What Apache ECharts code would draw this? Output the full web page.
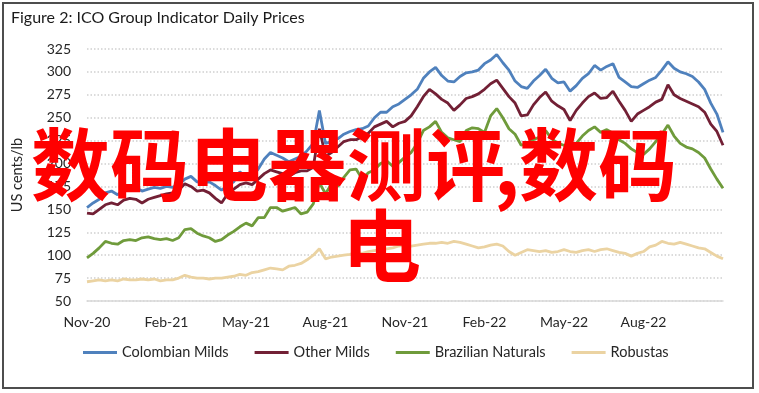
<!DOCTYPE html>
<html>
<head>
<meta charset="utf-8">
<script src="https://cdn.jsdelivr.net/npm/echarts@6/dist/echarts.min.js"></script>
<style>
html,body{margin:0;padding:0;background:#fff;}
#chart{width:759px;height:393px;}
</style>
</head>
<body>
<div id="chart"></div>
<script>
// Weekly observations starting 2020-11-02 (US cents/lb)
const startDate = '2020-11-02';
const colombianMilds = [152,157,161,168,170,166,171,173,174,170,172,174,173,175,174,177,183,186,180,179,180,176,171,176,180,191,184,186,194,205,212,209,206,202,205,208,214,222,258,222,224,227,232,235,237,238,241,250,256,256,262,265,270,275,281,293,300,305,296,290,289,295,299,300,302,309,313,319,310,302,290,284,282,290,296,303,293,288,289,279,285,293,298,307,302,306,309,294,289,284,283,287,291,294,302,311,304,300,298,295,289,281,266,254,234];
const otherMilds = [146,145,150,155,157,155,160,162,161,157,161,163,165,167,168,171,178,175,170,171,168,162,157,167,172,177,179,177,183,189,193,191,189,186,190,192,192,196,238,208,212,218,224,226,226,229,233,240,243,246,240,244,246,252,262,273,281,276,270,266,258,264,271,273,276,281,287,291,282,273,266,252,253,264,272,278,268,263,259,247,258,266,273,277,271,272,279,268,258,246,254,258,262,267,270,286,275,271,268,265,262,256,243,235,220];
const brazilianNaturals = [97,102,108,115,113,112,116,117,116,119,120,118,117,118,116,119,128,129,124,121,119,115,117,122,126,131,135,132,141,141,152,152,148,150,152,145,147,156,179,167,178,175,185,193,194,183,190,193,200,203,197,201,207,212,222,236,240,246,234,228,226,224,236,239,238,234,252,260,250,238,232,220,222,226,229,236,227,222,220,214,222,230,236,240,234,237,233,226,222,216,212,210,216,224,232,242,230,222,218,216,212,206,194,183,173];
const robustas = [71,72,73,72,73,72,74,73,73,74,73,74,72,73,73,75,78,76,75,75,74,75,75,76,77,79,78,81,82,84,86,85,84,88,89,91,95,100,107,96,98,99,100,101,103,102,104,105,106,107,108,110,111,110,111,112,113,113,114,113,115,114,112,110,108,109,111,112,110,104,100,103,106,105,104,105,103,104,106,104,103,105,106,104,106,107,105,103,102,99,102,104,109,111,115,113,112,114,112,110,108,107,103,99,96];
const seriesNames = ['Colombian Milds','Other Milds','Brazilian Naturals','Robustas'];
const tickLabels = ['Nov-20','Feb-21','May-21','Aug-21','Nov-21','Feb-22','May-22','Aug-22'];
const tickDates = ['2020-11-01','2021-02-01','2021-05-01','2021-08-01','2021-11-01','2022-02-01','2022-05-01','2022-08-01'];
const yTicks = {min:50, max:325, step:25};

const DAY = 86400000;
const t0 = Date.parse(startDate + 'T00:00:00Z');
const categories = colombianMilds.map((_, i) => new Date(t0 + i*7*DAY).toISOString().slice(0,10));
const labelMap = {};
tickDates.forEach((d, k) => {
  const idx = Math.round((Date.parse(d + 'T00:00:00Z') - t0) / (7*DAY));
  labelMap[Math.max(0, idx)] = tickLabels[k];
});

const FONT = 'Lato';
const colors = ['#4f81bd','#722035','#6f9b3b','#ebd3a2'];
const RED_FONT = 'bold 79px "Noto Sans CJK SC"';

const chart = echarts.init(document.getElementById('chart'), null, {renderer:'canvas'});
chart.setOption({
  animation:false,
  backgroundColor:'#ffffff',
  color: colors,
  title:{
    text:'Figure 2: ICO Group Indicator Daily Prices',
    left:6, top:5,
    textStyle:{fontFamily:FONT, fontSize:16, fontWeight:'normal', color:'#1a1a1a'}
  },
  legend:{
    data: seriesNames,
    left:83, top:345, padding:0,
    itemWidth:34, itemHeight:3, itemGap:26,
    icon:'rect',
    textStyle:{fontFamily:FONT, fontSize:14.5, color:'#262626'}
  },
  grid:{left:87, right:36, top:49, bottom:92, containLabel:false},
  xAxis:{
    type:'category',
    data: categories,
    boundaryGap:false,
    axisLine:{show:true, lineStyle:{color:'#d9d9d9', width:1.5}},
    axisTick:{show:false},
    splitLine:{show:false},
    axisLabel:{
      interval: function(index){ return labelMap[index] !== undefined; },
      formatter: function(v, index){ return labelMap[index] || ''; },
      fontFamily:FONT, fontSize:14, color:'#262626', margin:14
    }
  },
  yAxis:{
    type:'value',
    min:yTicks.min, max:yTicks.max, interval:yTicks.step,
    name:'US cents/lb',
    nameLocation:'middle',
    nameGap:62,
    nameTextStyle:{fontFamily:FONT, fontSize:14.5, color:'#262626'},
    axisLine:{show:false},
    axisTick:{show:false},
    axisLabel:{fontFamily:FONT, fontSize:14, color:'#262626', margin:16},
    splitLine:{show:true, lineStyle:{color:'#cfcfcf', width:1.5, type:[1.5,2]}}
  },
  series: [colombianMilds, otherMilds, brazilianNaturals, robustas].map((d, i) => ({
    name: seriesNames[i],
    type:'line',
    data:d,
    symbol:'none',
    lineStyle:{width:2.8, color:colors[i]},
    z: 10 - i
  })),
  graphic:[
    {type:'rect', shape:{x:3, y:3, width:750, height:385}, style:{fill:'none', stroke:'#4d4d4d', lineWidth:2}, z:100},
    {type:'text', left:31, top:125, z:200,
      style:{text:'数码电器测评', font:RED_FONT, fill:'#ff0000'}},
    {type:'text', left:494, top:125, z:200,
      style:{text:',', font:RED_FONT, fill:'#ff0000'}},
    {type:'text', left:519, top:125, z:200,
      style:{text:'数码', font:RED_FONT, fill:'#ff0000'}},
    {type:'text', left:342, top:206, z:200,
      style:{text:'电', font:RED_FONT, fill:'#ff0000'}}
  ]
});
</script>
</body>
</html>
